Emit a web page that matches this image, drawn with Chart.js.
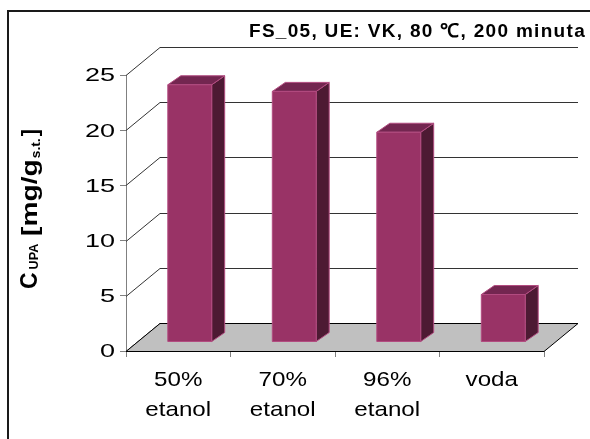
<!DOCTYPE html>
<html>
<head>
<meta charset="utf-8">
<script src="https://cdn.jsdelivr.net/npm/chart.js@4.4.1/dist/chart.umd.min.js"></script>
<style>
  html,body{margin:0;padding:0;background:#fff;overflow:hidden}
  #wrap{position:relative;width:590px;height:439px}
  #frame{position:absolute;left:7px;top:10px;width:620px;height:470px;border:2px solid #1a1a1a;box-sizing:border-box}
  #chart{position:absolute;left:0;top:0}
</style>
</head>
<body>
<div id="wrap">
  <div id="frame"></div>
  <canvas id="chart" width="590" height="439"></canvas>
</div>
<script>
/* ===== data ===== */
const categories=[["50%","etanol"],["70%","etanol"],["96%","etanol"],["voda"]];
const values=[23.3,22.7,19.0,4.3];
const yTicks=[0,5,10,15,20,25];
const TITLE="FS_05, UE: VK, 80 \u2103, 200 minuta";

const FONT='"Liberation Sans", Arial, sans-serif';

// 3d look: depth of the floor/back wall and where the bars stand inside it
const WALL={dx:34,dy:-28};
const BAR_OFF={dx:11.5,dy:-9};
const BAR_DEPTH={dx:13,dy:-9};
const C_FRONT="#993366", C_TOP="#732650", C_SIDE="#4d1a33", C_EDGE="#b24c80";

// wide (stretched) text, the way the old office renderer draws it
function wideText(ctx,txt,x,y,size,sx,align,bold){
  ctx.save();
  ctx.font=(bold?"bold ":"")+size+"px "+FONT;
  ctx.textAlign=align; ctx.textBaseline="alphabetic";
  ctx.translate(x,y); ctx.scale(sx,1);
  ctx.fillText(txt,0,0);
  ctx.restore();
}

const box3d={
  id:"box3d",
  beforeDatasetsDraw(chart){
    const {ctx,chartArea:a,scales:{y}}=chart;
    ctx.save();
    // back wall grid + left wall diagonals
    ctx.strokeStyle="#333"; ctx.lineWidth=1;
    y.ticks.forEach(t=>{
      const py=Math.round(y.getPixelForValue(t.value))+.5;
      ctx.beginPath();
      ctx.moveTo(a.left,py);
      ctx.lineTo(a.left+WALL.dx,py+WALL.dy);
      ctx.lineTo(a.right+WALL.dx,py+WALL.dy);
      ctx.stroke();
    });
    // floor
    const b=Math.round(y.getPixelForValue(0))+.5;
    ctx.beginPath();
    ctx.moveTo(a.left,b); ctx.lineTo(a.right,b);
    ctx.lineTo(a.right+WALL.dx,b+WALL.dy); ctx.lineTo(a.left+WALL.dx,b+WALL.dy);
    ctx.closePath();
    ctx.fillStyle="#c0c0c0"; ctx.fill();
    ctx.strokeStyle="#000"; ctx.stroke();
    ctx.restore();
  },
  afterDatasetsDraw(chart){
    const {ctx}=chart;
    const meta=chart.getDatasetMeta(0);
    ctx.save();
    ctx.lineWidth=1; ctx.lineJoin="round";
    meta.data.forEach(el=>{
      const p=el.getProps(["x","y","base","width"],true);
      const l=p.x-p.width/2+BAR_OFF.dx, r=l+p.width;
      const t=p.y+BAR_OFF.dy, bt=p.base+BAR_OFF.dy;
      const dx=BAR_DEPTH.dx, dy=BAR_DEPTH.dy;
      const poly=(pts,fill)=>{
        ctx.beginPath(); ctx.moveTo(pts[0][0],pts[0][1]);
        for(let i=1;i<pts.length;i++) ctx.lineTo(pts[i][0],pts[i][1]);
        ctx.closePath(); ctx.fillStyle=fill; ctx.fill();
        ctx.strokeStyle=C_EDGE; ctx.stroke();
      };
      poly([[r,t],[r+dx,t+dy],[r+dx,bt+dy],[r,bt]],C_SIDE);
      poly([[l,t],[l+dx,t+dy],[r+dx,t+dy],[r,t]],C_TOP);
      poly([[l,t],[r,t],[r,bt],[l,bt]],C_FRONT);
    });
    ctx.restore();
  },
  afterDraw(chart){
    const {ctx,scales:{x,y}}=chart;
    ctx.save();
    ctx.fillStyle="#000";

    // value axis labels
    y.ticks.forEach(t=>{
      const py=y.getPixelForValue(t.value);
      wideText(ctx,String(t.value),115,py+6.4,18,1.5,"right");
    });
    // category labels, two lines
    x.getLabels().forEach((lab,i)=>{
      const px=x.getPixelForValue(i);
      [].concat(lab).forEach((line,k)=>wideText(ctx,line,px,386+k*30,21,1.15,"center"));
    });

    // title, top right
    ctx.font="bold 19px "+FONT;
    ctx.textAlign="right"; ctx.textBaseline="alphabetic";
    ctx.letterSpacing="1.3px";
    ctx.fillText(TITLE,586,37);
    ctx.letterSpacing="0px";

    // y axis title with subscripts, rotated
    ctx.translate(37,289);
    ctx.rotate(-Math.PI/2);
    ctx.textAlign="left";
    let cx=0;
    const part=(txt,size,shift,sx,gap)=>{
      cx+=gap||0;
      ctx.save();
      ctx.font="bold "+size+"px "+FONT;
      ctx.translate(cx,shift); ctx.scale(sx,1);
      ctx.fillText(txt,0,0);
      ctx.restore();
      ctx.font="bold "+size+"px "+FONT;
      cx+=ctx.measureText(txt).width*sx;
    };
    part("C",23,0,1);
    part("UPA",12,1,1.05,3);
    part(" [mg/g",22,0,1.28);
    part("s.t.",12,3,1.15,1);
    part("]",22,0,1,2);
    ctx.restore();
  }
};

new Chart(document.getElementById("chart"),{
  type:"bar",
  data:{
    labels:categories,
    datasets:[{
      data:values,
      backgroundColor:"transparent",
      borderWidth:0,
      barPercentage:0.42,
      categoryPercentage:1
    }]
  },
  options:{
    responsive:false,
    devicePixelRatio:1,
    animation:false,
    events:[],
    layout:{padding:{left:0,top:75,right:46,bottom:0}},
    plugins:{legend:{display:false},tooltip:{enabled:false},title:{display:false}},
    scales:{
      x:{
        grid:{display:true,offset:true,drawOnChartArea:false,tickLength:6,color:"#808080"},
        border:{display:false},
        ticks:{display:false},
        afterFit(s){ s.height=88; }
      },
      y:{
        min:yTicks[0],
        max:yTicks[yTicks.length-1],
        grid:{drawOnChartArea:false,tickLength:6,color:"#808080"},
        border:{display:true,color:"#808080"},
        ticks:{display:false,stepSize:yTicks[1]-yTicks[0]},
        afterFit(s){ s.width=126; }
      }
    }
  },
  plugins:[box3d]
});
</script>
</body>
</html>
